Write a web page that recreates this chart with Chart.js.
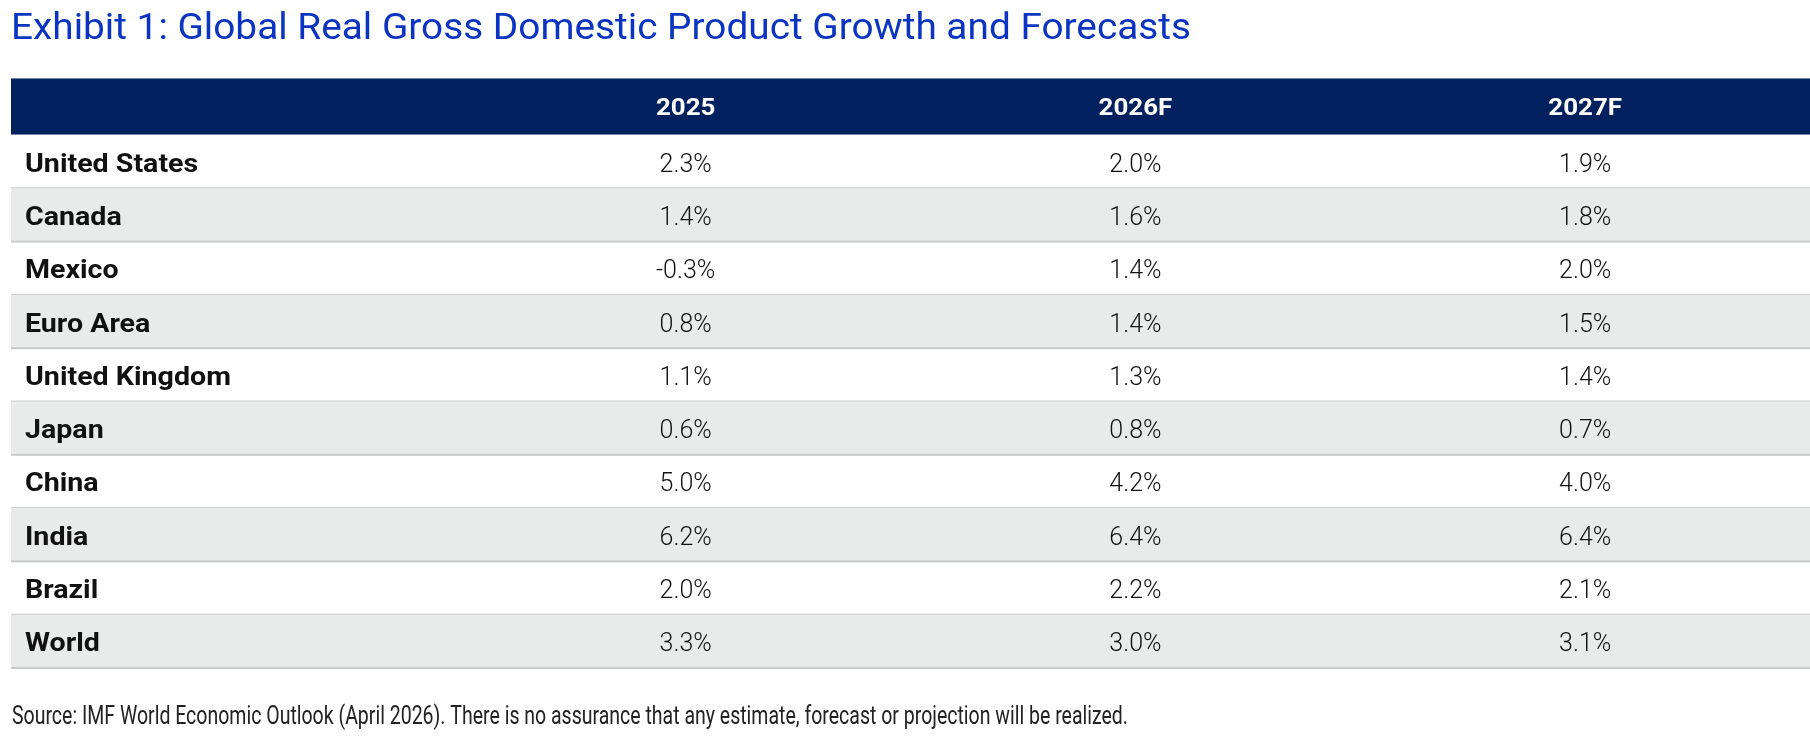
<!DOCTYPE html>
<html>
<head>
<meta charset="utf-8">
<script src="https://cdn.jsdelivr.net/npm/chart.js@4.4.1/dist/chart.umd.min.js"></script>
<style>
  html, body { margin: 0; padding: 0; background: #fff; }
  #wrap { position: relative; width: 1810px; height: 746px; }
</style>
</head>
<body>
<div id="wrap"><canvas id="gdpTable"></canvas></div>
<script>
// --- dados da tabela ---
const countries = ['United States', 'Canada', 'Mexico', 'Euro Area', 'United Kingdom', 'Japan', 'China', 'India', 'Brazil', 'World'];
const columns = ['', '2025', '2026F', '2027F'];
const gdp2025 = [2.3, 1.4, -0.3, 0.8, 1.1, 0.6, 5.0, 6.2, 2.0, 3.3];
const gdp2026F = [2.0, 1.6, 1.4, 1.4, 1.3, 0.8, 4.2, 6.4, 2.2, 3.0];
const gdp2027F = [1.9, 1.8, 2.0, 1.5, 1.4, 0.7, 4.0, 6.4, 2.1, 3.1];
const titleText = 'Exhibit 1: Global Real Gross Domestic Product Growth and Forecasts';
const sourceText = 'Source: IMF World Economic Outlook (April 2026). There is no assurance that any estimate, forecast or projection will be realized.';

const seriesByColumn = [null, gdp2025, gdp2026F, gdp2027F];
const fmt = v => v.toFixed(1) + '%';

// desenha texto comprimido na horizontal para caber numa largura
function fitText(ctx, text, x, y, width) {
    const w = ctx.measureText(text).width;
    stretchText(ctx, text, x, y, width / w);
}

// texto esticado por um fator horizontal (respeita textAlign)
function stretchText(ctx, text, x, y, sx) {
    ctx.save();
    ctx.translate(x, y);
    ctx.scale(sx, 1);
    ctx.fillText(text, 0, 0);
    ctx.restore();
}

const tablePlugin = {
    id: 'tableCells',
    beforeDraw(chart) {
        const { ctx, chartArea: a, scales: { x, y } } = chart;
        const rowH = a.height / countries.length;
        ctx.save();
        ctx.fillStyle = '#ffffff';
        ctx.fillRect(0, 0, chart.width, chart.height);

        // linhas alternadas
        countries.forEach((c, i) => {
            const yc = y.getPixelForValue(i);
            if (i % 2 === 1) {
                ctx.fillStyle = '#e9eaea';
                ctx.fillRect(a.left, yc - rowH / 2, a.width, rowH);
            }
            ctx.fillStyle = '#c9caca';
            ctx.fillRect(a.left, yc + rowH / 2 - 1, a.width, 2);
        });

        // cabeçalho
        const headH = 57;
        ctx.fillStyle = '#01215e';
        ctx.fillRect(a.left, a.top - headH, a.width, headH);
        ctx.fillStyle = '#7484a6';
        ctx.fillRect(a.left, a.top - headH, a.width, 1);
        ctx.fillRect(a.left, a.top - 1, a.width, 1);

        ctx.fillStyle = '#ffffff';
        ctx.font = '700 24px Roboto';
        ctx.textAlign = 'center';
        ctx.textBaseline = 'alphabetic';
        columns.forEach((col, j) => {
            if (!col) return;
            stretchText(ctx, col, x.getPixelForValue(j), a.top - headH + 37, 1.08);
        });

        // título e fonte
        ctx.textAlign = 'left';
        ctx.fillStyle = '#0b34c0';
        ctx.font = '400 37px Roboto';
        fitText(ctx, titleText, 11, 39, 1180);
        ctx.fillStyle = '#222222';
        ctx.font = '400 25px Roboto';
        fitText(ctx, sourceText, 12, 724, 1116);
        ctx.restore();
    },
    afterDatasetsDraw(chart) {
        const { ctx, chartArea: a, scales: { x, y } } = chart;
        const colW = a.width / columns.length;
        ctx.save();
        ctx.textBaseline = 'alphabetic';
        countries.forEach((c, i) => {
            const yc = y.getPixelForValue(i);
            ctx.fillStyle = '#111111';
            ctx.font = '700 26px Roboto';
            ctx.textAlign = 'left';
            stretchText(ctx, c, x.getPixelForValue(0) - colW / 2 + 14, yc + 10, 1.1);
            ctx.font = '300 25px Roboto';
            ctx.textAlign = 'center';
            for (let j = 1; j < columns.length; j++) {
                ctx.fillText(fmt(seriesByColumn[j][i]), x.getPixelForValue(j), yc + 10);
            }
        });
        ctx.restore();
    }
};

new Chart(document.getElementById('gdpTable'), {
    type: 'bar',
    data: {
        labels: countries,
        datasets: []
    },
    options: {
        indexAxis: 'y',
        responsive: true,
        maintainAspectRatio: false,
        animation: false,
        devicePixelRatio: 1,
        layout: { padding: { top: 135, left: 11, right: 0, bottom: 78 } },
        plugins: {
            legend: { display: false },
            tooltip: { enabled: false },
            title: { display: false }
        },
        scales: {
            x: { type: 'category', labels: columns, offset: true, display: false },
            y: { type: 'category', labels: countries, offset: true, display: false }
        }
    },
    plugins: [tablePlugin]
});
</script>
</body>
</html>
